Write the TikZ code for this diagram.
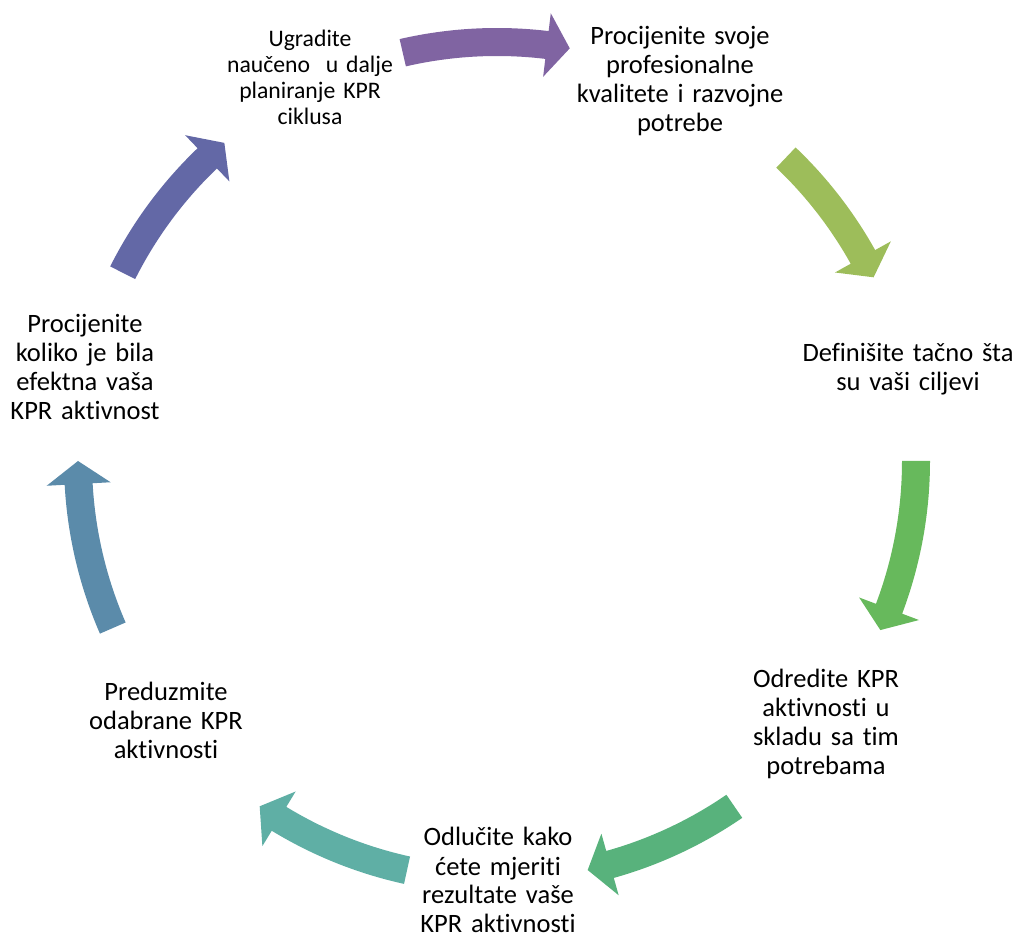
\documentclass[tikz,border=0pt]{standalone}
\usepackage{fontspec}
\setmainfont{Carlito}[Ligatures={NoCommon,NoRare,NoContextual},RawFeature={-liga;-clig;-calt;-dlig}]
\usetikzlibrary{calc}
\definecolor{cA}{HTML}{8064A2}
\definecolor{cB}{HTML}{9DBD5A}
\definecolor{cC}{HTML}{67B95C}
\definecolor{cD}{HTML}{58B27C}
\definecolor{cE}{HTML}{5FAFA5}
\definecolor{cF}{HTML}{5B8BAA}
\definecolor{cG}{HTML}{6368A6}
\newcommand{\cycarr}[3]{%
  \pgfmathsetmacro\cycbase{#3+3.15}%
  \fill[#1] ($(C)+(#2:433pt)$) arc[start angle=#2, end angle=\cycbase, radius=433pt]
    -- ($(C)+(\cycbase:451pt)$) -- ($(C)+(#3:419pt)$) -- ($(C)+(\cycbase:387pt)$)
    -- ($(C)+(\cycbase:405pt)$) arc[start angle=\cycbase, end angle=#2, radius=405pt] -- cycle;}
\tikzset{
  lbl/.style={text width=260pt, align=center, anchor=base, inner sep=0pt,
    font=\fontsize{26.5}{29}\selectfont},
  lblsmall/.style={lbl, font=\fontsize{23.7}{25.8}\selectfont}
}
\begin{document}
\begin{tikzpicture}[x=1pt,y=1pt]
\useasboundingbox (0,0) rectangle (1015,935);
\coordinate (C) at (497,474);
\cycarr{cA}{103}{80}
\cycarr{cB}{46.4}{26}
\cycarr{cC}{0}{-23.8}
\cycarr{cD}{-55.5}{-77.5}
\cycarr{cE}{-102.4}{-124.5}
\cycarr{cF}{-156.5}{-180}
\cycarr{cG}{153.3}{130.6}
\node[lbl] (n1) at (680,890) {Procijenite svoje\\profesionalne\\kvalitete i razvojne\\potrebe};
\node[lbl] (n2) at (908,573) {Definišite tačno šta\\su vaši ciljevi};
\node[lbl] (n3) at (826,247) {Odredite KPR\\aktivnosti u\\skladu sa tim\\potrebama};
\node[lbl] (n4) at (498,89) {Odlučite kako\\ćete mjeriti\\rezultate vaše\\KPR aktivnosti};
\node[lbl] (n5) at (166,234) {Preduzmite\\odabrane KPR\\aktivnosti};
\node[lbl] (n6) at (85,602) {Procijenite\\koliko je bila\\efektna vaša\\KPR aktivnost};
\node[lblsmall] (n7) at (310,888) {Ugradite\\naučeno\ \ u dalje\\planiranje KPR\\ciklusa};
\end{tikzpicture}
\end{document}
